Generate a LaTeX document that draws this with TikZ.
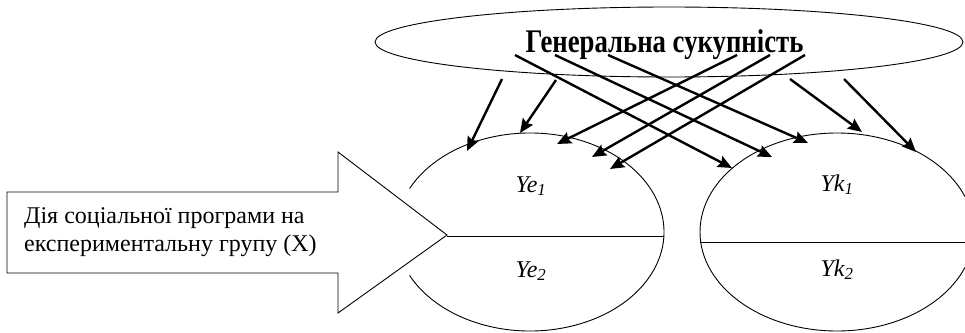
\documentclass[tikz,border=0pt]{standalone}
\usepackage{fontspec}
\setmainfont{Liberation Serif}
\usetikzlibrary{arrows.meta,shapes.geometric}
\begin{document}
\begin{tikzpicture}[x=1pt,y=-1pt,
  arr/.style={line width=2.4pt,-{Stealth[length=14pt,width=12pt,inset=2pt]}},
  outline/.style={line width=0.9pt},
  lbl/.style={font=\itshape\fontsize{24}{28}\selectfont, inner sep=0pt, anchor=base}]
\useasboundingbox (0,0) rectangle (965,332);
% top ellipse
\node[draw, ellipse, outline, minimum width=588pt, minimum height=70pt, inner sep=0pt] (pop) at (669,42) {};
\node[inner sep=0pt, anchor=base] (title) at (664.5,52)
  {\scalebox{0.81}[1]{\bfseries\fontsize{33}{36}\selectfont Генеральна сукупність}};
% left ellipse (with gap behind the block arrow)
\coordinate (ye) at (530,232);
\draw[outline] (ye) ++(154:134pt and 99pt) arc[start angle=154, end angle=-154, x radius=134pt, y radius=99pt];
% right ellipse
\node[draw, ellipse, outline, minimum width=274pt, minimum height=198pt, inner sep=0pt] (yk) at (837,232) {};
% block arrow
\draw[outline] (7,192) -- (338,192) -- (338,152) -- (447,235) coordinate (tip) -- (338,313) -- (338,273) -- (7,273) -- cycle;
\node[anchor=west, align=left, inner sep=0pt, font=\fontsize{24}{28.5}\selectfont] (act) at (24,232)
  {Дія соціальної програми на\\експериментальну групу (X)};
% dividing lines
\coordinate (yeR) at (664,236);
\coordinate (ykL) at (700,242);
\coordinate (ykR) at (975,242);
\draw[outline] (tip |- yeR) -- (yeR);
\draw[outline] (ykL) -- (ykR);
% labels
\node[lbl] (ye1) at (531,192) {Ye\textsubscript{1}};
\node[lbl] (ye2) at (531,277) {Ye\textsubscript{2}};
\node[lbl] (yk1) at (837,191) {Yk\textsubscript{1}};
\node[lbl] (yk2) at (837,276) {Yk\textsubscript{2}};
% arrow start and end points
\coordinate (s1) at (502,79);  \coordinate (t1) at (467,151);
\coordinate (s2) at (556,80);  \coordinate (t2) at (520,133);
\coordinate (s3) at (737,55);  \coordinate (t3) at (557,144);
\coordinate (s4) at (770,55);  \coordinate (t4) at (592,157);
\coordinate (s5) at (805,55);  \coordinate (t5) at (610,169);
\coordinate (s6) at (515,55);  \coordinate (t6) at (732,168);
\coordinate (s7) at (555,55);  \coordinate (t7) at (772,157);
\coordinate (s8) at (608,55);  \coordinate (t8) at (808,143);
\coordinate (s9) at (790,79);  \coordinate (t9) at (862,132);
\coordinate (s10) at (844,79); \coordinate (t10) at (916,152);
\foreach \i in {1,...,10} {\draw[arr] (s\i) -- (t\i);}
\end{tikzpicture}
\end{document}
